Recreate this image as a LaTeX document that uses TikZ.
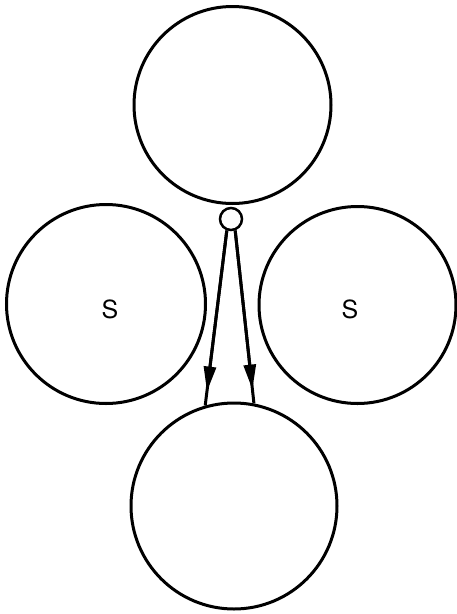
\documentclass[tikz,border=0pt]{standalone}
\usepackage{fontspec}
\setmainfont{TeX Gyre Heros}
\usetikzlibrary{arrows.meta,calc}
\begin{document}
\begin{tikzpicture}[x=1pt,y=-1pt,
  ball/.style={draw,circle,line width=3pt,inner sep=0pt},
  lbl/.style={font=\fontsize{25}{30}\selectfont},
  feed/.style={line width=3pt},
  head/.style={line width=3pt,-{Triangle[length=25pt,width=12pt]}}]
\useasboundingbox (0,0) rectangle (457,614);
\node[ball,minimum size=197pt] (top) at (232.5,105) {};
\node[ball,minimum size=199pt] (left) at (106,304) {};
\node[ball,minimum size=197pt] (right) at (357.5,305) {};
\node[ball,minimum size=206pt] (bottom) at (234,506) {};
\node[ball,minimum size=22pt,line width=2.5pt] (small) at (231,219) {};
\node[lbl] (sl) at (110,309) {S};
\node[lbl] (sr) at (350,309) {S};
\draw[feed] (small.250) -- (bottom.106);
\draw[feed] (small.290) -- (bottom.79);
\draw[head] (small.250) -- ($(small.250)!0.92!(bottom.106)$);
\draw[head] (small.290) -- ($(small.290)!0.92!(bottom.79)$);
\end{tikzpicture}
\end{document}
